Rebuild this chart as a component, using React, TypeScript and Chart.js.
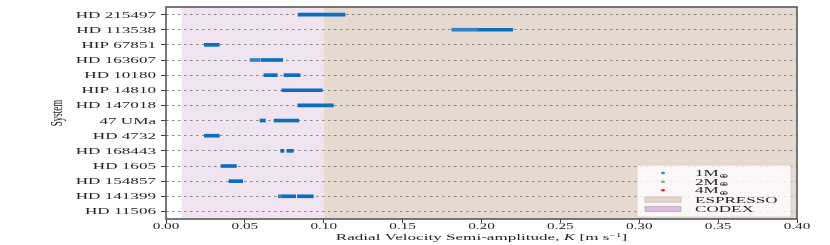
import React, { useEffect, useRef } from 'react';
import { Chart, registerables } from 'chart.js';

Chart.register(...registerables);

// ---------------- data ----------------
const systems = [
  'HD 215497', 'HD 113538', 'HIP 67851', 'HD 163607', 'HD 10180', 'HIP 14810', 'HD 147018',
  '47 UMa', 'HD 4732', 'HD 168443', 'HD 1605', 'HD 154857', 'HD 141399', 'HD 11506',
];

type Seg = [number, number] | null;

// 1 M_earth semi-amplitude samples (dense part), first range per system
const kDenseA: Seg[] = [
  [0.0837, 0.1135],
  [0.1978, 0.2198],
  [0.0243, 0.0338],
  [0.0602, 0.074],
  [0.0621, 0.0706],
  [0.0734, 0.0991],
  [0.0835, 0.1061],
  [0.0596, 0.063],
  [0.0243, 0.0338],
  [0.0727, 0.0748],
  [0.0349, 0.0446],
  [0.0399, 0.0486],
  [0.0735, 0.0822],
  null,
];
// second range per system
const kDenseB: Seg[] = [
  null,
  null,
  null,
  null,
  [0.0748, 0.085],
  null,
  null,
  [0.0685, 0.0841],
  null,
  [0.0767, 0.0807],
  null,
  null,
  [0.0833, 0.0934],
  null,
];
// sparse (lighter) tails
const kSparse: Seg[] = [
  null,
  [0.1812, 0.1978],
  null,
  [0.0533, 0.0596],
  null,
  null,
  null,
  null,
  null,
  null,
  null,
  null,
  [0.0712, 0.0735],
  null,
];

const xTicks = [0, 0.05, 0.1, 0.15, 0.2, 0.25, 0.3, 0.35, 0.4];
const codexRange: [number, number] = [0.01, 0.1];
const espressoRange: [number, number] = [0.1, 0.4];

const massLabels = ['1', '2', '4'];
const massColors = ['#2b8ad6', '#7cb342', '#d2234b'];
const instrumentLabels = ['ESPRESSO', 'CODEX'];
const yTitle = 'System';

// ---------------- styles ----------------
const W = 830;
const H = 245;
const FONT = '"Liberation Serif", "Times New Roman", serif';
const SX = 1.9;
const BLUE = '#0b6fbf';
const BLUE_SPARSE = '#3381c6';
const TEXT = '#222222';
const CODEX_FILL = '#f0e4f1';
const ESPRESSO_FILL = '#e6d9cf';
const CODEX_PATCH = '#dcbddc';
const ESPRESSO_PATCH = '#e6d6cc';

type Part = { t: string; size: number; italic?: boolean; dy?: number };

function fontOf(p: Part) {
  return `${p.italic ? 'italic ' : ''}${p.size}px ${FONT}`;
}

function partsWidth(ctx: CanvasRenderingContext2D, parts: Part[], sx: number) {
  let w = 0;
  for (const p of parts) {
    ctx.font = fontOf(p);
    w += ctx.measureText(p.t).width * sx;
  }
  return w;
}

function drawParts(
  ctx: CanvasRenderingContext2D,
  parts: Part[],
  x: number,
  y: number,
  sx: number,
  align: 'left' | 'center' | 'right',
) {
  const w = partsWidth(ctx, parts, sx);
  let cx = align === 'center' ? x - w / 2 : align === 'right' ? x - w : x;
  for (const p of parts) {
    ctx.font = fontOf(p);
    ctx.save();
    ctx.textAlign = 'left';
    ctx.textBaseline = 'alphabetic';
    ctx.translate(cx, y + (p.dy || 0));
    ctx.scale(sx, 1);
    ctx.fillText(p.t, 0, 0);
    ctx.restore();
    cx += ctx.measureText(p.t).width * sx;
  }
}

const regionsPlugin = {
  id: 'regions',
  beforeDraw(chart: any) {
    const ctx: CanvasRenderingContext2D = chart.ctx;
    const xs = chart.scales.x;
    const { top, bottom } = chart.chartArea;
    ctx.save();
    const e0 = xs.getPixelForValue(espressoRange[0]);
    const e1 = xs.getPixelForValue(espressoRange[1]);
    ctx.fillStyle = ESPRESSO_FILL;
    ctx.fillRect(e0, top, e1 - e0, bottom - top);
    const c0 = xs.getPixelForValue(codexRange[0]);
    const c1 = xs.getPixelForValue(codexRange[1]);
    ctx.fillStyle = CODEX_FILL;
    ctx.fillRect(c0, top, c1 - c0, bottom - top);
    ctx.restore();
  },
};

const overlayPlugin = {
  id: 'overlay',
  afterDraw(chart: any) {
    const ctx: CanvasRenderingContext2D = chart.ctx;
    const { left, right, top, bottom } = chart.chartArea;
    const xs = chart.scales.x;
    const ys = chart.scales.y;
    ctx.save();

    // frame
    ctx.strokeStyle = '#4d4d4d';
    ctx.lineWidth = 1.5;
    ctx.strokeRect(left, top, right - left, bottom - top);

    ctx.fillStyle = TEXT;
    // y tick labels
    systems.forEach((s, i) => {
      const y = ys.getPixelForValue(i);
      drawParts(ctx, [{ t: s, size: 9 }], left - 10, y + 3, SX, 'right');
    });
    // x tick labels
    xTicks.forEach((v) => {
      const x = xs.getPixelForValue(v);
      drawParts(ctx, [{ t: v.toFixed(2), size: 8 }], x, bottom + 10, SX, 'center');
    });
    // x title
    drawParts(
      ctx,
      [
        { t: 'Radial Velocity Semi-amplitude, ', size: 9 },
        { t: 'K', size: 9, italic: true },
        { t: ' [m s', size: 9 },
        { t: '\u22121', size: 6, dy: -3.5 },
        { t: ']', size: 9 },
      ],
      (left + right) / 2,
      bottom + 21,
      SX,
      'center',
    );
    // y title
    ctx.save();
    ctx.translate(58, (top + bottom) / 2);
    ctx.rotate(-Math.PI / 2);
    ctx.scale(1, SX);
    ctx.font = `9px ${FONT}`;
    ctx.textAlign = 'center';
    ctx.textBaseline = 'middle';
    ctx.fillText(yTitle, 0, 0);
    ctx.restore();

    // legend
    const bx = 637, by = 165, bw = 154, bh = 52;
    ctx.beginPath();
    if ((ctx as any).roundRect) (ctx as any).roundRect(bx, by, bw, bh, 2);
    else ctx.rect(bx, by, bw, bh);
    ctx.fillStyle = 'rgba(255,255,255,0.82)';
    ctx.fill();
    ctx.strokeStyle = '#d4d4d4';
    ctx.lineWidth = 1;
    ctx.stroke();

    const rows = [173, 181.7, 190.3, 199.6, 209];
    massLabels.forEach((m, i) => {
      const ry = rows[i];
      ctx.fillStyle = massColors[i];
      ctx.beginPath();
      ctx.ellipse(663, ry, 2, 1.3, 0, 0, Math.PI * 2);
      ctx.fill();
      ctx.fillStyle = TEXT;
      drawParts(
        ctx,
        [
          { t: m + 'M', size: 9 },
          { t: '\u2295', size: 5.5, dy: 1.5 },
        ],
        695,
        ry + 3,
        SX,
        'left',
      );
    });
    instrumentLabels.forEach((lab, j) => {
      const ry = rows[3 + j];
      ctx.fillStyle = j === 0 ? ESPRESSO_PATCH : CODEX_PATCH;
      ctx.fillRect(645, ry - 2.5, 36, 5);
      ctx.strokeStyle = j === 0 ? '#c7b6aa' : '#c3a3c3';
      ctx.lineWidth = 0.8;
      ctx.strokeRect(645, ry - 2.5, 36, 5);
      ctx.fillStyle = TEXT;
      drawParts(ctx, [{ t: lab, size: 9 }], 695, ry + 3, SX, 'left');
    });

    ctx.restore();
  },
};

export default function App() {
  const ref = useRef<HTMLCanvasElement | null>(null);

  useEffect(() => {
    const canvas = ref.current;
    if (!canvas) return;
    const barCommon = {
      grouped: false,
      barThickness: 3,
      borderWidth: 0,
      borderSkipped: false,
    };
    const chart = new Chart(canvas, {
      type: 'bar',
      data: {
        labels: systems,
        datasets: [
          { label: '1M sparse', data: kSparse as any, backgroundColor: BLUE_SPARSE, ...barCommon },
          { label: '1M', data: kDenseA as any, backgroundColor: BLUE, ...barCommon },
          { label: '1M b', data: kDenseB as any, backgroundColor: BLUE, ...barCommon },
        ],
      },
      options: {
        indexAxis: 'y',
        animation: false,
        responsive: false,
        maintainAspectRatio: false,
        events: [],
        layout: { padding: { top: 7, right: 33, left: 0, bottom: 0 } },
        plugins: { legend: { display: false }, tooltip: { enabled: false } },
        scales: {
          x: {
            type: 'linear',
            position: 'bottom',
            min: 0,
            max: 0.4,
            ticks: { display: false },
            afterBuildTicks: (s: any) => {
              s.ticks = xTicks.map((v) => ({ value: v }));
            },
            grid: {
              drawOnChartArea: false,
              drawTicks: true,
              tickLength: 4,
              tickColor: '#444',
              tickWidth: 1,
            },
            border: { display: false },
            afterFit: (s: any) => {
              s.height = 26;
            },
          },
          y: {
            type: 'category',
            offset: true,
            ticks: { display: false },
            grid: {
              offset: false,
              color: '#8a8a8a',
              lineWidth: 1,
              drawTicks: true,
              tickLength: 5,
              tickColor: '#444',
              tickWidth: 1,
              tickBorderDash: [],
            },
            border: { display: false, dash: [2.5, 3.5] },
            afterFit: (s: any) => {
              s.width = 166;
            },
          },
        },
      } as any,
      plugins: [regionsPlugin, overlayPlugin],
    });
    return () => chart.destroy();
  }, []);

  return (
    <div style={{ position: 'fixed', left: 0, top: 0, width: W, height: H, background: '#fff' }}>
      <canvas ref={ref} width={W} height={H} style={{ display: 'block', width: W, height: H }} />
    </div>
  );
}
